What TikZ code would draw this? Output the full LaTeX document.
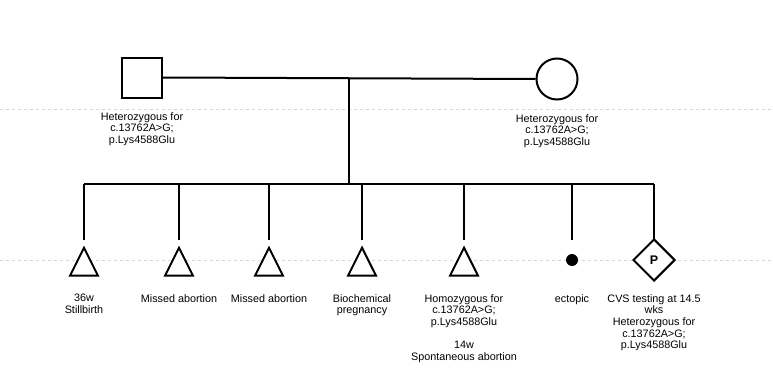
\documentclass[tikz,border=0pt]{standalone}
\usepackage{fontspec}
\setmainfont{Liberation Sans}
\usetikzlibrary{positioning,shapes.geometric}
\definecolor{pagegrid}{HTML}{D6D6D6}
\tikzset{
  male/.style  ={rectangle, draw, line width=2pt, fill=white, minimum size=40pt, inner sep=0pt},
  female/.style={circle, draw, line width=2pt, fill=white, minimum size=41pt, inner sep=0pt},
  loss/.style  ={isosceles triangle, shape border rotate=90, isosceles triangle apex angle=53,
                 isosceles triangle stretches, minimum width=28pt, minimum height=28pt,
                 draw, line width=2pt, fill=white, inner sep=0pt},
  ectop/.style ={circle, fill=black, minimum size=12pt, inner sep=0pt},
  preg/.style  ={diamond, draw, line width=2pt, fill=white, minimum size=42pt, inner sep=0pt, font=\bfseries\fontsize{12.5}{13}\selectfont},
  lab/.style   ={anchor=north, align=center, inner sep=0pt, font=\fontsize{10.8}{11.7}\selectfont},
  link/.style  ={line width=2pt},
  pagebrk/.style={pagegrid, line width=0.8pt, dash pattern=on 3pt off 3pt},
}
\begin{document}
\begin{tikzpicture}[x=1pt, y=-1pt]
  \useasboundingbox (0,0) rectangle (773,380);
  % page break guides
  \coordinate (gl1) at (0,109);   \coordinate (gr1) at (773,109);
  \coordinate (gl2) at (0,260);   \coordinate (gr2) at (773,260);
  \draw[pagebrk] (gl1) -- (gr1);
  \draw[pagebrk] (gl2) -- (gr2);

  % parents
  \node[male]   (dad) at (142,77.5) {};
  \node[female] (mum) at (557,79)   {};
  \node[lab] (dadlab) at (142,112) {Heterozygous for\\c.13762A>G;\\p.Lys4588Glu};
  \node[lab] (mumlab) at (557,114) {Heterozygous for\\c.13762A>G;\\p.Lys4588Glu};
  \coordinate (mid) at (349,78);
  \coordinate (sibL) at (84,184);
  \coordinate (sibR) at (654,184);
  \coordinate (drop) at (0,240);
  \draw[link] (dad.east) -- (mum.west);
  \draw[link] (mid) -- (mid |- sibL);
  \draw[link] (sibL) -- (sibR);

  % pregnancies
  \node[loss,anchor=north]  (c1) at (84,245.5)  {};
  \node[loss,anchor=north]  (c2) at (179,245.5) {};
  \node[loss,anchor=north]  (c3) at (269,245.5) {};
  \node[loss,anchor=north]  (c4) at (362,245.5) {};
  \node[loss,anchor=north]  (c5) at (464,245.5) {};
  \node[ectop] (c6) at (572,260) {};
  \node[preg]  (c7) at (654,260) {P};
  \foreach \c in {c1,c2,c3,c4,c5,c6,c7}
    \draw[link] (\c |- sibL) -- (\c |- drop);

  \node[lab] (l1) at (84,294)  {36w\\Stillbirth};
  \node[lab] (l2) at (179,294) {Missed abortion};
  \node[lab] (l3) at (269,294) {Missed abortion};
  \node[lab] (l4) at (362,294) {Biochemical\\pregnancy};
  \node[lab] (l5) at (464,294) {Homozygous for\\c.13762A>G;\\p.Lys4588Glu\\[11.7pt]14w\\Spontaneous abortion};
  \node[lab] (l6) at (572,294) {ectopic};
  \node[lab] (l7) at (654,294) {CVS testing at 14.5\\wks\\Heterozygous for\\c.13762A>G;\\p.Lys4588Glu};
\end{tikzpicture}
\end{document}
